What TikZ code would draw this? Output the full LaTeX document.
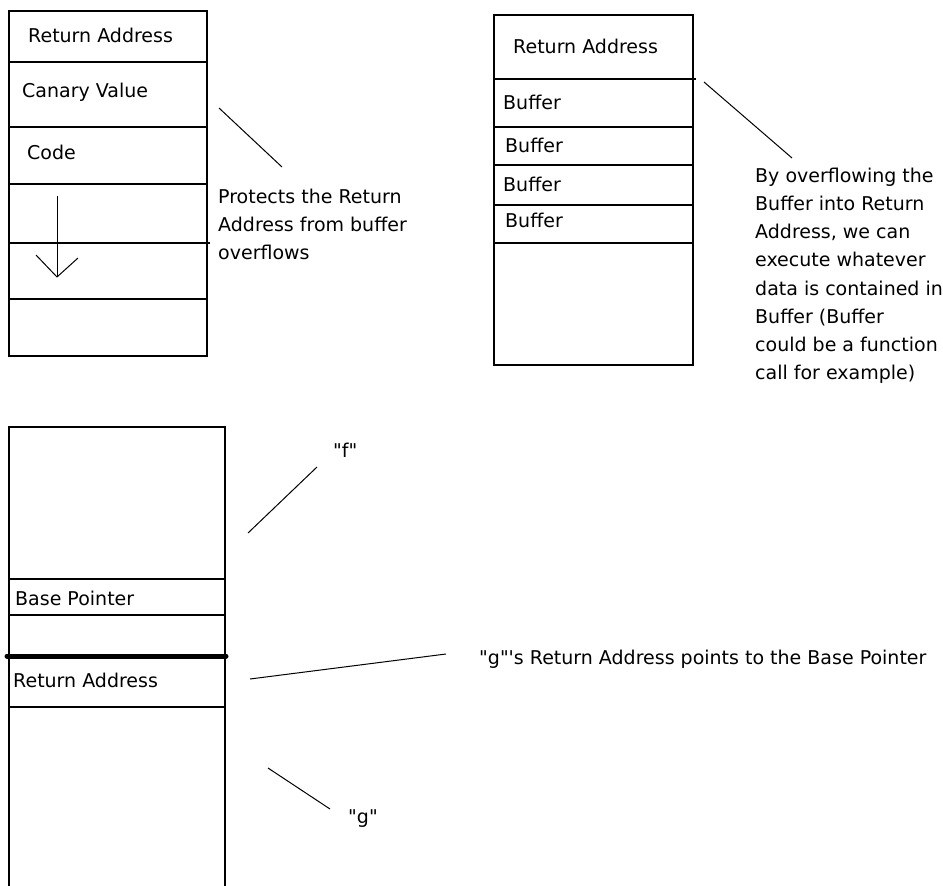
\documentclass[tikz,border=0pt]{standalone}
\usepackage{fontspec}
\setmainfont{DejaVu Sans}[Ligatures=TeXOff]
\begin{document}
\begin{tikzpicture}[x=1pt,y=-1pt,
  stack/.style={line width=1.4pt},
  lead/.style={line width=1pt},
  lbl/.style={anchor=base west,inner sep=0pt,font=\fontsize{19}{28}\selectfont},
  para/.style={anchor=north west,inner sep=0pt,align=left,font=\fontsize{19}{28.2}\selectfont}]
\path[use as bounding box, fill=white] (0,0) rectangle (943,886);

% ---------- top-left stack (canary) ----------
\draw[stack] (9,11) rectangle (207,356);
\draw[stack] (9,62) -- (207,62);
\draw[stack] (9,127) -- (207,127);
\draw[stack] (9,184) -- (207,184);
\draw[stack] (9,243) -- (210,243);
\draw[stack] (9,299) -- (207,299);
\node[lbl] (ra1) at (28,42) {Return Address};
\node[lbl] (cv) at (22,97) {Canary Value};
\node[lbl] (code) at (27,159) {Code};
\coordinate (arT) at (57,196);
\coordinate (arB) at (57,277);
\coordinate (arL) at (36,255);
\coordinate (arR) at (78,258);
\draw[lead] (arT) -- (arB);
\draw[lead] (arL) -- (arB) -- (arR);
\coordinate (l1a) at (219,108);
\coordinate (l1b) at (282,167);
\draw[lead] (l1a) -- (l1b);
\node[para] (prot) at (218,188.6) {Protects the Return\\Address from buffer\\overflows};

% ---------- top-right stack (buffer overflow) ----------
\draw[stack] (494,15) rectangle (693,365);
\draw[stack] (494,79) -- (696,79);
\draw[stack] (494,127) -- (693,127);
\draw[stack] (494,165) -- (693,165);
\draw[stack] (494,205) -- (693,205);
\draw[stack] (494,243) -- (693,243);
\node[lbl] (ra2) at (513,53) {Return Address};
\node[lbl] (b1) at (503,109) {Buffer};
\node[lbl] (b2) at (505,152) {Buffer};
\node[lbl] (b3) at (503,191) {Buffer};
\node[lbl] (b4) at (505,227) {Buffer};
\coordinate (l2a) at (704,82);
\coordinate (l2b) at (792,158);
\draw[lead] (l2a) -- (l2b);
\node[para] (ovf) at (755,167.6) {By overflowing the\\Buffer into Return\\Address, we can\\execute whatever\\data is contained in\\Buffer (Buffer\\could be a function\\call for example)};

% ---------- bottom stack (frames f and g) ----------
\draw[stack] (9,886) -- (9,427) -- (225,427) -- (225,886);
\draw[stack] (9,579) -- (225,579);
\draw[stack] (9,615) -- (225,615);
\draw[stack] (9,707) -- (225,707);
\draw[line width=5pt, line cap=round] (7,656) -- (226,656);
\node[lbl] (bp) at (15,605) {Base Pointer};
\node[lbl] (ra3) at (13,687) {Return Address};
\coordinate (lfa) at (248,533);
\coordinate (lfb) at (317,467);
\draw[lead] (lfa) -- (lfb);
\node[lbl] (f) at (333,457) {"f"};
\coordinate (lra) at (250,679);
\coordinate (lrb) at (446,654);
\draw[lead] (lra) -- (lrb);
\node[lbl] (gra) at (479,664) {"g"'s Return Address points to the Base Pointer};
\coordinate (lga) at (268,768);
\coordinate (lgb) at (330,809);
\draw[lead] (lga) -- (lgb);
\node[lbl] (g) at (348,823) {"g"};
\end{tikzpicture}
\end{document}
